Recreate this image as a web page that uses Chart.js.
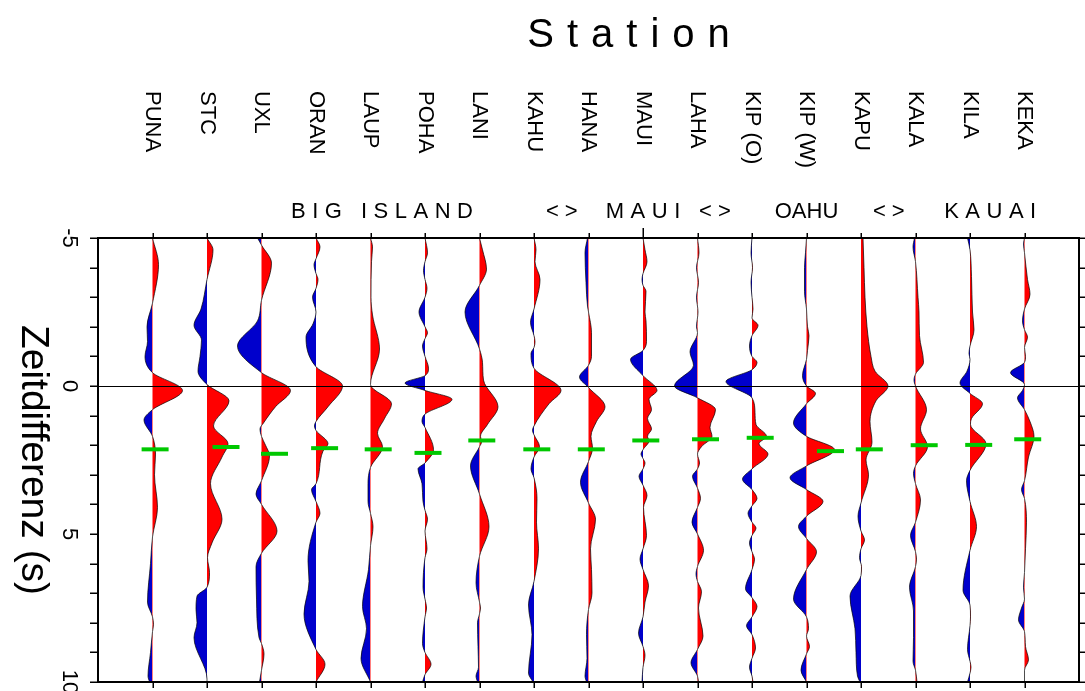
<!DOCTYPE html>
<html><head><meta charset="utf-8">
<script src="https://cdn.jsdelivr.net/npm/chart.js@4.4.1/dist/chart.umd.min.js"></script>
<style>html,body{margin:0;padding:0;background:#fff}canvas{display:block}</style>
</head><body>
<canvas id="c" width="1085" height="691"></canvas>
<script>
// ---------------- DATA ----------------
const STATIONS = ['PUNA','STC','UXL','ORAN','LAUP','POHA','LANI','KAHU','HANA','MAUI','LAHA','KIP (O)','KIP (W)','KAPU','KALA','KILA','KEKA'];
const REGION_TEXT = ['BIG ISLAND','<>','MAUI','<>','OAHU','<>','KAUAI'];
const REGION_POS  = [4.21, 7.51, 9.0, 10.32, 12.0, 13.51, 15.37];
const Y_TICK_LABELS = [-5, 0, 5, 10];

// trace key points: [time (s), amplitude]
const PUNA = [[-5,0],[-4.1,6],[-2.8,0],[-2.0,-5.5],[-1.5,-5],[-1.0,-7.5],[-0.45,0],[0.15,30],[0.8,0],[1.15,-8.5],[1.7,0],[2.3,3],[3.0,2],[4.1,5],[5.1,0],[6.0,-2],[7.3,-5],[7.8,0],[8.05,1],[8.3,0],[9.0,-2],[9.8,-4.5],[10,-3]];
const STC = [[-5,0],[-4.6,6],[-3.6,0],[-2.6,-6],[-2.05,-13],[-1.55,-5.5],[-1.0,-7],[-0.5,-9],[-0.05,0],[0.5,22],[1.35,6.5],[1.95,21],[2.4,15],[3.3,3.5],[4.5,15],[5.3,5],[5.8,0.5],[6.3,2.5],[6.8,0],[7.1,-10],[7.55,-11],[8.0,-10],[8.5,-13],[9.9,0],[10,0]];
const UXL = [[-5,-4],[-4.76,0],[-4.15,10],[-2.9,0],[-2.2,-4],[-1.35,-24],[-0.45,0],[0.15,29],[0.7,14],[1.25,2],[1.45,-1.5],[1.7,0],[2.0,4],[2.35,8],[3.2,0],[3.65,-5.5],[4.0,0],[4.9,15.5],[5.65,0],[6.1,-5.5],[7.2,-5],[8.5,-2.5],[8.7,0],[9.05,2.5],[9.6,0],[10,-2]];
const ORAN = [[-5,0],[-4.7,4],[-4.3,0],[-4.1,-2],[-3.8,0],[-3.6,2],[-3.3,0],[-3.0,-3.5],[-2.5,0],[-2.1,-3],[-1.65,-10],[-0.65,0],[0.0,26.5],[0.7,12],[1.2,0],[1.35,-1.5],[1.5,0],[1.95,12],[2.2,7],[3.3,0],[3.5,-4.5],[3.9,0],[4.3,4],[4.6,0],[5.9,-8],[6.6,-7],[7.7,-12],[8.9,0],[9.4,9],[10,0]];
const LAUP = [[-5,0],[-4.7,2],[-4.2,1],[-3.0,0.5],[-2.4,2],[-1.25,9],[-0.05,0],[0.6,21],[1.1,14],[1.6,7],[2.05,12],[2.75,0],[3.3,-2.5],[3.9,-2.5],[4.3,0],[4.75,2.5],[5.4,0],[6.2,-2],[7.45,-8],[8.2,-4],[9.2,-9.5],[10,0]];
const POHA = [[-5,0],[-4.5,2.5],[-4.2,0],[-3.9,-1.5],[-3.6,0],[-3.3,2],[-3.0,0],[-2.5,-6],[-2.0,0],[-1.8,2.5],[-1.6,0],[-1.35,-2.5],[-1.0,0],[-0.6,3.5],[-0.35,0],[-0.1,-20],[0.15,0],[0.45,27],[0.95,0],[1.2,-3],[1.4,0],[2.15,8.5],[2.6,0],[2.8,-7],[3.3,-3],[3.9,-2],[4.2,0],[4.5,2.5],[4.9,0],[5.5,2],[5.8,0],[6.8,-2],[7.2,0],[7.5,1.5],[7.8,0],[8.7,-2.5],[9.0,0],[9.4,6],[9.75,0],[10,-2.5]];
const LANI = [[-5,0],[-4.6,3],[-3.95,7],[-3.4,0],[-2.5,-14.5],[-1.25,0],[-0.8,3],[-0.2,4],[0.7,18.5],[1.3,8],[1.7,1],[1.9,2],[2.05,0],[2.7,-9],[3.65,0],[4.75,9.5],[5.75,0],[6.65,-3.5],[7.3,0],[7.5,1],[7.7,0],[8.0,-2],[8.8,-1.5],[9.5,-1],[9.8,-3.5],[10,-2]];
const KAHU = [[-5,0],[-4.6,2],[-4.2,1],[-3.6,6],[-2.6,0],[-2.15,-3.5],[-1.7,0],[-1.5,1],[-1.3,0],[-1.1,-3],[-0.6,0],[0.15,27],[0.6,15],[1.35,0],[1.5,-1.5],[1.65,0],[2.05,5.5],[2.4,0],[2.8,-3],[3.1,0],[3.8,3],[4.6,2.5],[5.5,4.5],[6.6,0],[7.4,-5.5],[8.4,-2],[9.7,-5.5],[10,-1]];
const HANA = [[-5,-1],[-4.5,-3.5],[-3.5,-2.5],[-2.7,-1],[-2.5,0],[-1.8,3],[-1.0,3],[-0.7,0],[-0.3,-9],[0.05,0],[0.7,16.5],[1.2,8],[1.7,2.5],[2.1,4],[2.55,0],[3.25,-8],[3.95,0],[4.5,7],[5.5,2],[6.2,3],[7.0,3.5],[7.55,0],[8.4,-2],[9.2,-1.5],[9.8,-3.5],[10,-2]];
const MAUI = [[-5,0],[-4.6,2],[-4.2,4],[-3.8,0],[-3.6,-1],[-3.4,0],[-3.2,3],[-2.5,2],[-2.2,3],[-1.5,3.5],[-1.2,0],[-0.9,-12.5],[-0.35,0],[0.15,14],[0.45,6],[0.8,8.5],[1.1,4.5],[1.45,8.5],[1.7,4.5],[1.85,6],[2.15,0],[2.3,-2],[2.45,0],[2.6,2],[2.8,0],[3.05,-4],[3.35,0],[3.7,4],[4.1,0.5],[5.05,3.5],[5.5,0],[5.85,-3],[6.2,0],[6.75,5.5],[7.3,2],[7.8,0],[8.35,-4.5],[8.8,0],[9.1,2],[9.5,0],[10,-1]];
const LAHA = [[-5,0],[-4.5,1.5],[-4.0,-1],[-3.5,1],[-3.0,-1],[-2.5,0.5],[-2.0,-1],[-1.8,0],[-1.15,-7.5],[-0.7,-4],[0.0,-23],[0.4,0],[0.8,18],[1.4,12.5],[1.7,14.5],[2.05,4],[2.3,0],[2.6,2],[2.8,0],[3.05,-5],[3.45,0],[3.8,3],[4.1,0],[4.6,-5.5],[5.0,0],[5.55,6],[6.1,0],[6.35,-1.5],[6.6,0],[6.95,4],[7.5,1],[8.45,5.5],[8.9,0],[9.35,-6.5],[9.8,0],[10,1]];
const KIP_O = [[-5,0],[-4.5,-1],[-4.0,0.5],[-3.5,-1],[-3.0,0],[-2.6,1],[-2.3,0],[-2.05,6],[-1.7,0],[-1.35,-2.5],[-1.0,0],[-0.8,5],[-0.55,0],[-0.15,-26],[0.4,0],[0.9,3],[1.3,4],[1.7,14.5],[1.95,7],[2.3,16],[2.8,0],[3.15,-9.5],[3.5,0],[3.8,5],[4.05,0],[4.3,-4],[4.6,0],[4.8,4],[5.05,0],[5.3,-2.5],[5.6,0],[5.85,2.5],[6.2,0],[6.85,-6.5],[7.15,0],[7.45,5],[7.8,0],[8.1,-5.5],[8.4,0],[8.85,3.5],[9.2,0],[9.5,-2.5],[9.8,0],[10,1]];
const KIP_W = [[-5,0],[-4.5,-1],[-4.0,-2],[-3.2,-2],[-2.6,0],[-2.0,1],[-1.7,2.5],[-1.2,1],[-0.9,0],[-0.35,-4],[0,0],[0.25,9],[0.6,0],[1.25,-13],[1.7,0],[2.15,28],[2.7,0],[3.1,-16.5],[3.5,0],[3.9,16.5],[4.4,0],[4.75,-8],[5.15,0],[5.6,10],[6.2,0],[7.2,-13],[7.8,0],[8.2,2],[8.45,0],[8.8,3],[9.05,0],[9.6,-5.5],[10,0]];
const KAPU = [[-5,2],[-4.0,3],[-3.0,4],[-2.0,6],[-1.0,10],[-0.5,14],[0.0,27],[0.5,15],[1.2,9],[1.9,11],[2.5,5],[3.0,7.5],[3.95,0],[4.4,-3],[4.9,0],[5.2,3.5],[5.5,0],[5.8,-1.5],[6.1,0.5],[6.4,0],[7.1,-11],[8.2,-6],[9.0,-5],[9.8,-3.5],[10,-1]];
const KALA = [[-5,-1],[-4.7,-2.5],[-4.2,0],[-3.0,2.5],[-2.5,3.5],[-1.7,4],[-0.8,8],[-0.4,0],[-0.2,-1.5],[0.0,0],[0.8,11],[1.45,5],[2.05,12],[2.7,0],[2.95,-2],[3.3,0],[3.85,5],[4.6,0],[5.05,-5],[5.6,0],[5.85,1],[6.1,0],[6.8,-6],[7.6,-2],[8.5,-2],[9.3,-2.5],[9.6,0],[10,1.5]];
const KILA = [[-5,-2.5],[-4.6,0],[-3.7,1.5],[-2.5,2.5],[-1.9,4],[-1.35,0],[-1.1,-1],[-0.9,0],[-0.5,-3],[-0.1,-10],[0.25,0],[0.6,12.5],[1.1,1.5],[1.3,0.5],[1.95,16],[2.85,0],[3.2,-3.5],[3.9,0],[4.75,6.5],[5.55,0],[6.9,-7],[7.4,0],[7.8,0.5],[8.1,0],[8.9,-2.5],[9.3,0],[9.5,1],[9.7,0],[10,-2.5]];
const KEKA = [[-5,0],[-4.8,-1],[-4.5,0],[-3.6,3],[-3.1,5.5],[-2.6,0],[-2.2,-2],[-1.9,0],[-1.65,3],[-1.3,0],[-1.0,1],[-0.8,0],[-0.45,-14],[-0.05,0],[0.15,-2],[0.4,-7],[0.8,0],[1.2,5.5],[1.7,9.5],[2.4,4],[3.2,0],[3.5,-3],[3.8,0],[4.6,2],[5.5,1],[6.3,0],[6.8,-1],[7.2,0],[7.5,-3],[7.9,-6],[8.3,0],[8.8,1],[9.25,4],[9.6,0],[10,0]];
const TRACES = [PUNA, STC, UXL, ORAN, LAUP, POHA, LANI, KAHU, HANA, MAUI, LAHA, KIP_O, KIP_W, KAPU, KALA, KILA, KEKA];

// green picks
const PICK_TIME = [2.14, 2.06, 2.29, 2.10, 2.14, 2.26, 1.84, 2.14, 2.14, 1.84, 1.80, 1.75, 2.20, 2.14, 2.00, 1.99, 1.80];
const PICK_AMP  = [2.6, 19, 13, 8.6, 7.7, 3, 2.3, 2.8, 2.8, 2.8, 8, 8.2, 24, 8.3, 8.7, 8.7, 3.2];

// ---------------- STYLE ----------------
const GAIN = 1 / 54.5;
const RED = '#ff0000', BLUE = '#0000cc', GREEN = '#00c800';
const FONT = '"Liberation Sans", Arial, Helvetica, sans-serif';
const REGION_SPACING = [6.5, 6, 6.5, 6, 0, 6, 6.5];

function sideFill(i) {
  return (c) => {
    const ch = c.chart;
    if (!ch.chartArea || !ch.scales || !ch.scales.x) return RED;
    const px = ch.scales.x.getPixelForValue(i);
    const g = ch.ctx.createLinearGradient(px - 1, 0, px + 1, 0);
    g.addColorStop(0, BLUE); g.addColorStop(0.5, BLUE);
    g.addColorStop(0.5, RED); g.addColorStop(1, RED);
    return g;
  };
}

const datasets = [{
  label: 'picks',
  data: PICK_TIME.map((t, i) => ({x: i + PICK_AMP[i] * GAIN, y: t})),
  showLine: false, pointStyle: 'line', pointRadius: 13.5, pointHoverRadius: 13.5,
  pointBorderWidth: 4, pointBorderColor: GREEN, pointBackgroundColor: GREEN,
  fill: false, order: 0, xAxisID: 'x', yAxisID: 'y', clip: 20
}];
TRACES.forEach((tr, i) => {
  datasets.push({
    label: STATIONS[i],
    data: tr.map(([t, a]) => ({x: i + a * GAIN, y: t})),
    borderColor: '#000', borderWidth: 0.7, pointRadius: 0, pointHoverRadius: 0,
    cubicInterpolationMode: 'monotone',
    fill: {target: {value: i}},
    backgroundColor: sideFill(i),
    order: 1, xAxisID: 'x', yAxisID: 'y'
  });
});

function spacedText(ctx, text, x, y, align, spacing) {
  if (!spacing) { ctx.textAlign = align; ctx.fillText(text, x, y); return; }
  const chars = [...text];
  const w = chars.map(ch => ctx.measureText(ch).width);
  const total = w.reduce((a, b) => a + b, 0) + spacing * (chars.length - 1);
  let sx = align === 'center' ? x - total / 2 : (align === 'right' ? x - total : x);
  ctx.textAlign = 'left';
  chars.forEach((ch, k) => { ctx.fillText(ch, sx, y); sx += w[k] + spacing; });
}
function rotText(ctx, text, x, y, align, spacing) {
  ctx.save(); ctx.translate(x, y); ctx.rotate(Math.PI / 2);
  spacedText(ctx, text, 0, 0, align, spacing);
  ctx.restore();
}
function seg(ctx, x1, y1, x2, y2) { ctx.beginPath(); ctx.moveTo(x1, y1); ctx.lineTo(x2, y2); ctx.stroke(); }

// frame, ticks and zero line, positioned through the chart scales
const axesPlugin = {
  id: 'frameAxes',
  afterDatasetsDraw(chart) {
    const ctx = chart.ctx, a = chart.chartArea, xs = chart.scales.x, ys = chart.scales.y;
    ctx.save();
    ctx.strokeStyle = '#000';
    ctx.lineWidth = 1;
    const y0 = Math.round(ys.getPixelForValue(0)) + 0.5;
    seg(ctx, a.left, y0, a.right, y0);
    ctx.lineWidth = 1.5;
    for (let v = Math.ceil(ys.min); v <= ys.max; v++) {
      const p = Math.round(ys.getPixelForValue(v)) + 0.25;
      seg(ctx, a.left - 8, p, a.left, p);
      seg(ctx, a.right, p, a.right + 8, p);
    }
    STATIONS.forEach((_, i) => {
      const p = Math.round(xs.getPixelForValue(i)) + 0.25;
      seg(ctx, p, a.top - (STATIONS[i] === 'MAUI' ? 10 : 5), p, a.top);
      seg(ctx, p, a.bottom, p, a.bottom + 6);
    });
    ctx.lineWidth = 2;
    ctx.strokeRect(a.left, a.top, a.right - a.left, a.bottom - a.top);
    ctx.restore();
  }
};

const textPlugin = {
  id: 'texts',
  afterDraw(chart) {
    const ctx = chart.ctx, xs = chart.scales.x, ys = chart.scales.y;
    ctx.save();
    ctx.fillStyle = '#000';
    ctx.font = '40px ' + FONT; ctx.textBaseline = 'alphabetic';
    spacedText(ctx, 'Station', 628.5, 47, 'center', 13);
    ctx.font = '22px ' + FONT; ctx.textBaseline = 'middle';
    STATIONS.forEach((s, i) => rotText(ctx, s, xs.getPixelForValue(i), 91, 'left', 0));
    ctx.font = '22px ' + FONT; ctx.textBaseline = 'alphabetic';
    REGION_TEXT.forEach((s, k) => spacedText(ctx, s, xs.getPixelForValue(REGION_POS[k]), 218, 'center', REGION_SPACING[k]));
    ctx.font = '22px ' + FONT; ctx.textBaseline = 'middle';
    Y_TICK_LABELS.forEach(v => rotText(ctx, String(v), 69, ys.getPixelForValue(v), 'center', 0));
    ctx.font = '39px ' + FONT; ctx.textBaseline = 'middle';
    rotText(ctx, 'Zeitdifferenz (s)', 33, (ys.top + ys.bottom) / 2, 'center', 0);
    ctx.restore();
  }
};

new Chart(document.getElementById('c'), {
  type: 'line',
  data: {datasets},
  options: {
    responsive: false, animation: false, events: [],
    indexAxis: 'y',
    layout: {autoPadding: false, padding: {left: 98, top: 238, right: 6, bottom: 9}},
    plugins: {legend: {display: false}, tooltip: {enabled: false}, title: {display: false}},
    scales: {
      x: {type: 'linear', display: false, position: 'top', min: -1, max: 17},
      y: {type: 'linear', display: false, position: 'left', reverse: true, min: -5, max: 10}
    }
  },
  plugins: [axesPlugin, textPlugin]
});
</script>
</body></html>
